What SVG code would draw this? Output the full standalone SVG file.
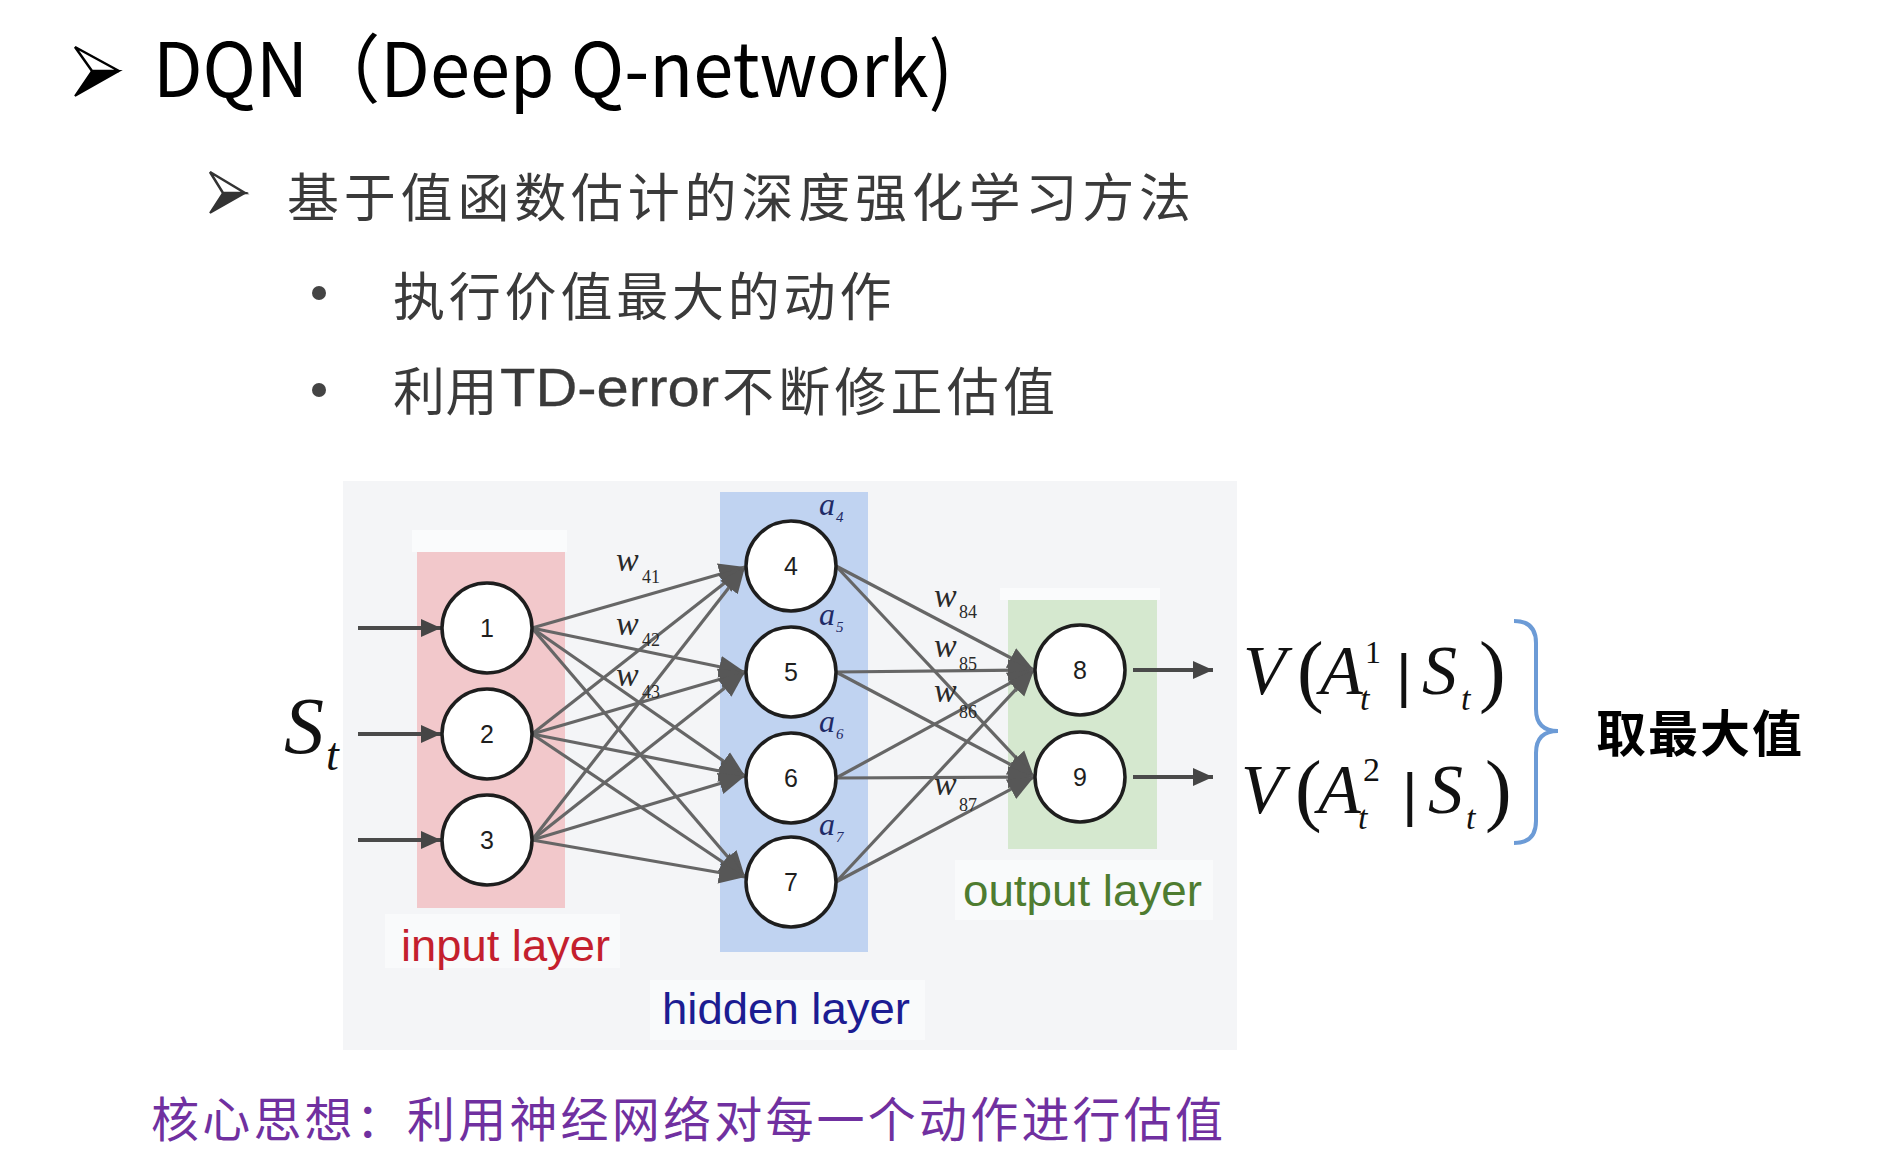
<svg xmlns="http://www.w3.org/2000/svg" width="1890" height="1170" viewBox="0 0 1890 1170">
  <style>
    .title { font-family: "Noto Sans CJK SC", "Noto Sans", sans-serif; font-size: 75px; fill: #000; }
    .kai { font-family: "Noto Sans CJK SC", sans-serif; fill: #3a3a3a; }
    .num { font-family: "Liberation Sans", Arial, sans-serif; font-size: 25px; fill: #1e1e1e; text-anchor: middle; }
    .layer { font-family: "Liberation Sans", Arial, sans-serif; font-size: 45px; }
    .math { font-family: "Liberation Serif", "Times New Roman", serif; fill: #111; }
    .it { font-style: italic; }
    .bar { font-family: "Liberation Sans", Arial, sans-serif; font-size: 60px; }
    .wlab { font-family: "Liberation Serif", "Times New Roman", serif; font-size: 34px; font-style: italic; fill: #2a2a2a; }
    .wsub { font-family: "Liberation Serif", "Times New Roman", serif; font-size: 18px; fill: #2a2a2a; }
    .alab { font-family: "Liberation Serif", "Times New Roman", serif; font-size: 32px; font-style: italic; fill: #1f2a66; }
    .asub { font-family: "Liberation Serif", "Times New Roman", serif; font-size: 15px; font-style: italic; fill: #1f2a66; }
    .node circle { fill: #fff; stroke: #1e1e1e; stroke-width: 3.5; }
    .link { stroke: #666; stroke-width: 3.2; fill: none; marker-end: url(#ah); }
    .feed { stroke: #4a4a4a; stroke-width: 4; fill: none; marker-end: url(#ah2); }
  </style>
  <defs>
    <marker id="ah" markerUnits="userSpaceOnUse" markerWidth="28" markerHeight="24" refX="26" refY="12" orient="auto">
      <path d="M0,1 L26,12 L0,23 Z" fill="#575757"/>
    </marker>
    <marker id="ah2" markerUnits="userSpaceOnUse" markerWidth="22" markerHeight="20" refX="20" refY="10" orient="auto">
      <path d="M0,1 L20,10 L0,19 Z" fill="#454545"/>
    </marker>
  </defs>

  <rect width="1890" height="1170" fill="#fff"/>

  <!-- heading -->
  <g id="heading">
    <path d="M75,47 L119,71 L92,71 Z" fill="#fff" stroke="#000" stroke-width="2.5" stroke-linejoin="miter"/>
    <path d="M92,71 L119,71 L75,96 Z" fill="#000" stroke="#000" stroke-width="2"/>
    <text class="title" x="153" y="97" textLength="800" lengthAdjust="spacingAndGlyphs">DQN（Deep Q-network)</text>
  </g>

  <!-- bullet list -->
  <g id="bullets">
    <path d="M210,172 L245,193 L223,193 Z" fill="#fff" stroke="#333" stroke-width="2.5"/>
    <path d="M223,193 L245,193 L210,213 Z" fill="#333" stroke="#333" stroke-width="2"/>
    <text class="kai" x="287" y="217" font-size="52" letter-spacing="4.8">基于值函数估计的深度强化学习方法</text>
    <circle cx="319" cy="293" r="7" fill="#444"/>
    <text class="kai" x="393" y="316" font-size="52" letter-spacing="3.8">执行价值最大的动作</text>
    <circle cx="319" cy="390" r="7" fill="#444"/>
    <text class="kai" x="393" y="411" font-size="52" letter-spacing="0.5">利用</text>
    <text x="500" y="406" font-family="Liberation Sans, Arial, sans-serif" font-size="54" fill="#3a3a3a" stroke="#3a3a3a" stroke-width="0.3" textLength="219" lengthAdjust="spacingAndGlyphs">TD-error</text>
    <text class="kai" x="722" y="411" font-size="52" letter-spacing="4.2">不断修正估值</text>
  </g>

  <!-- network panel backdrop -->
  <g id="panel">
    <rect x="343" y="481" width="894" height="569" fill="#f4f5f7"/>
    <rect x="412" y="530" width="155" height="22" fill="#fafbfc"/>
    <rect x="1000" y="588" width="160" height="12" fill="#fafbfc"/>
    <rect x="417" y="552" width="148" height="356" fill="#f2c8cb"/>
    <rect x="720" y="492" width="148" height="460" fill="#c0d3f1"/>
    <rect x="1008" y="600" width="149" height="249" fill="#d5e8cf"/>
    <rect x="385" y="914" width="235" height="54" fill="#f9fafb"/>
    <rect x="955" y="860" width="258" height="60" fill="#f9fafb"/>
    <rect x="650" y="980" width="275" height="60" fill="#f9fafb"/>
  </g>

  <!-- connectors -->
  <g id="connectors">
    <!-- external inputs -->
    <line class="feed" x1="358" y1="628" x2="441" y2="628"/>
    <line class="feed" x1="358" y1="734" x2="441" y2="734"/>
    <line class="feed" x1="358" y1="840" x2="441" y2="840"/>
    <!-- input -> hidden -->
    <line class="link" x1="532" y1="628" x2="745" y2="567"/>
    <line class="link" x1="532" y1="628" x2="745" y2="672"/>
    <line class="link" x1="532" y1="628" x2="745" y2="776"/>
    <line class="link" x1="532" y1="628" x2="745" y2="877"/>
    <line class="link" x1="532" y1="734" x2="745" y2="567"/>
    <line class="link" x1="532" y1="734" x2="745" y2="672"/>
    <line class="link" x1="532" y1="734" x2="745" y2="776"/>
    <line class="link" x1="532" y1="734" x2="745" y2="877"/>
    <line class="link" x1="532" y1="840" x2="745" y2="567"/>
    <line class="link" x1="532" y1="840" x2="745" y2="672"/>
    <line class="link" x1="532" y1="840" x2="745" y2="776"/>
    <line class="link" x1="532" y1="840" x2="745" y2="877"/>
    <!-- hidden -> output -->
    <line class="link" x1="836" y1="566" x2="1034" y2="670"/>
    <line class="link" x1="836" y1="566" x2="1034" y2="777"/>
    <line class="link" x1="836" y1="672" x2="1034" y2="670"/>
    <line class="link" x1="836" y1="672" x2="1034" y2="777"/>
    <line class="link" x1="836" y1="778" x2="1034" y2="670"/>
    <line class="link" x1="836" y1="778" x2="1034" y2="777"/>
    <line class="link" x1="836" y1="882" x2="1034" y2="670"/>
    <line class="link" x1="836" y1="882" x2="1034" y2="777"/>
    <!-- outputs -->
    <line class="feed" x1="1133" y1="670" x2="1213" y2="670"/>
    <line class="feed" x1="1133" y1="777" x2="1213" y2="777"/>
  </g>

  <!-- weight labels -->
  <g id="weights">
    <text class="wlab" x="616" y="571">w</text><text class="wsub" x="642" y="583">41</text>
    <text class="wlab" x="616" y="635">w</text><text class="wsub" x="642" y="646">42</text>
    <text class="wlab" x="616" y="686">w</text><text class="wsub" x="642" y="698">43</text>
    <text class="wlab" x="934" y="607">w</text><text class="wsub" x="959" y="618">84</text>
    <text class="wlab" x="934" y="657">w</text><text class="wsub" x="959" y="670">85</text>
    <text class="wlab" x="934" y="702">w</text><text class="wsub" x="959" y="718">86</text>
    <text class="wlab" x="934" y="795">w</text><text class="wsub" x="959" y="811">87</text>
  </g>

  <!-- input layer -->
  <g id="node-1" class="node"><circle cx="487" cy="628" r="45"/><text class="num" x="487" y="637">1</text></g>
  <g id="node-2" class="node"><circle cx="487" cy="734" r="45"/><text class="num" x="487" y="743">2</text></g>
  <g id="node-3" class="node"><circle cx="487" cy="840" r="45"/><text class="num" x="487" y="849">3</text></g>

  <!-- hidden layer -->
  <g id="node-4" class="node"><circle cx="791" cy="566" r="45"/><text class="num" x="791" y="575">4</text>
    <text class="alab" x="819" y="515">a</text><text class="asub" x="836" y="522">4</text></g>
  <g id="node-5" class="node"><circle cx="791" cy="672" r="45"/><text class="num" x="791" y="681">5</text>
    <text class="alab" x="819" y="625">a</text><text class="asub" x="836" y="632">5</text></g>
  <g id="node-6" class="node"><circle cx="791" cy="778" r="45"/><text class="num" x="791" y="787">6</text>
    <text class="alab" x="819" y="732">a</text><text class="asub" x="836" y="739">6</text></g>
  <g id="node-7" class="node"><circle cx="791" cy="882" r="45"/><text class="num" x="791" y="891">7</text>
    <text class="alab" x="819" y="835">a</text><text class="asub" x="836" y="842">7</text></g>

  <!-- output layer -->
  <g id="node-8" class="node"><circle cx="1080" cy="670" r="45"/><text class="num" x="1080" y="679">8</text></g>
  <g id="node-9" class="node"><circle cx="1080" cy="777" r="45"/><text class="num" x="1080" y="786">9</text></g>

  <!-- layer captions -->
  <g id="captions">
    <text class="layer" x="401" y="961" fill="#c41f2e" textLength="209" lengthAdjust="spacingAndGlyphs">input layer</text>
    <text class="layer" x="662" y="1024" fill="#1c1c92" textLength="248" lengthAdjust="spacingAndGlyphs">hidden layer</text>
    <text class="layer" x="963" y="906" fill="#4e7c30" textLength="239" lengthAdjust="spacingAndGlyphs">output layer</text>
  </g>

  <!-- state input -->
  <g id="state">
    <text class="math it" x="284" y="753" font-size="80">S</text>
    <text class="math it" x="326" y="770" font-size="46">t</text>
  </g>

  <!-- action values -->
  <g id="value-1" class="math">
    <text class="it" x="1243" y="694" font-size="70">V</text>
    <text x="1297" y="697" font-size="80">(</text>
    <text class="it" x="1320" y="694" font-size="70">A</text>
    <text x="1365" y="663" font-size="32">1</text>
    <text class="it" x="1360" y="710" font-size="34">t</text>
    <text class="bar" x="1396" y="696">|</text>
    <text class="it" x="1422" y="694" font-size="70">S</text>
    <text class="it" x="1461" y="710" font-size="34">t</text>
    <text x="1479" y="697" font-size="80">)</text>
  </g>
  <g id="value-2" class="math">
    <text class="it" x="1241" y="813" font-size="70">V</text>
    <text x="1295" y="816" font-size="80">(</text>
    <text class="it" x="1318" y="813" font-size="70">A</text>
    <text x="1363" y="781" font-size="34">2</text>
    <text class="it" x="1358" y="829" font-size="34">t</text>
    <text class="bar" x="1402" y="815">|</text>
    <text class="it" x="1428" y="813" font-size="70">S</text>
    <text class="it" x="1466" y="829" font-size="34">t</text>
    <text x="1485" y="816" font-size="80">)</text>
  </g>

  <!-- brace and max label -->
  <g id="brace">
    <path d="M1514,621 Q1536,621 1536,643 L1536,709 Q1536,731 1558,731 Q1536,731 1536,753 L1536,821 Q1536,843 1514,843" fill="none" stroke="#6c9bd6" stroke-width="4"/>
  </g>
  <g id="max-label">
    <text x="1596" y="752" font-family="Noto Sans CJK SC, sans-serif" font-weight="700" font-size="50" letter-spacing="2" fill="#000">取最大值</text>
  </g>

  <!-- core idea -->
  <g id="core-idea">
    <text class="kai" x="151" y="1137" font-size="48" letter-spacing="3.2" style="fill:#7030a0">核心思想：利用神经网络对每一个动作进行估值</text>
  </g>
</svg>
